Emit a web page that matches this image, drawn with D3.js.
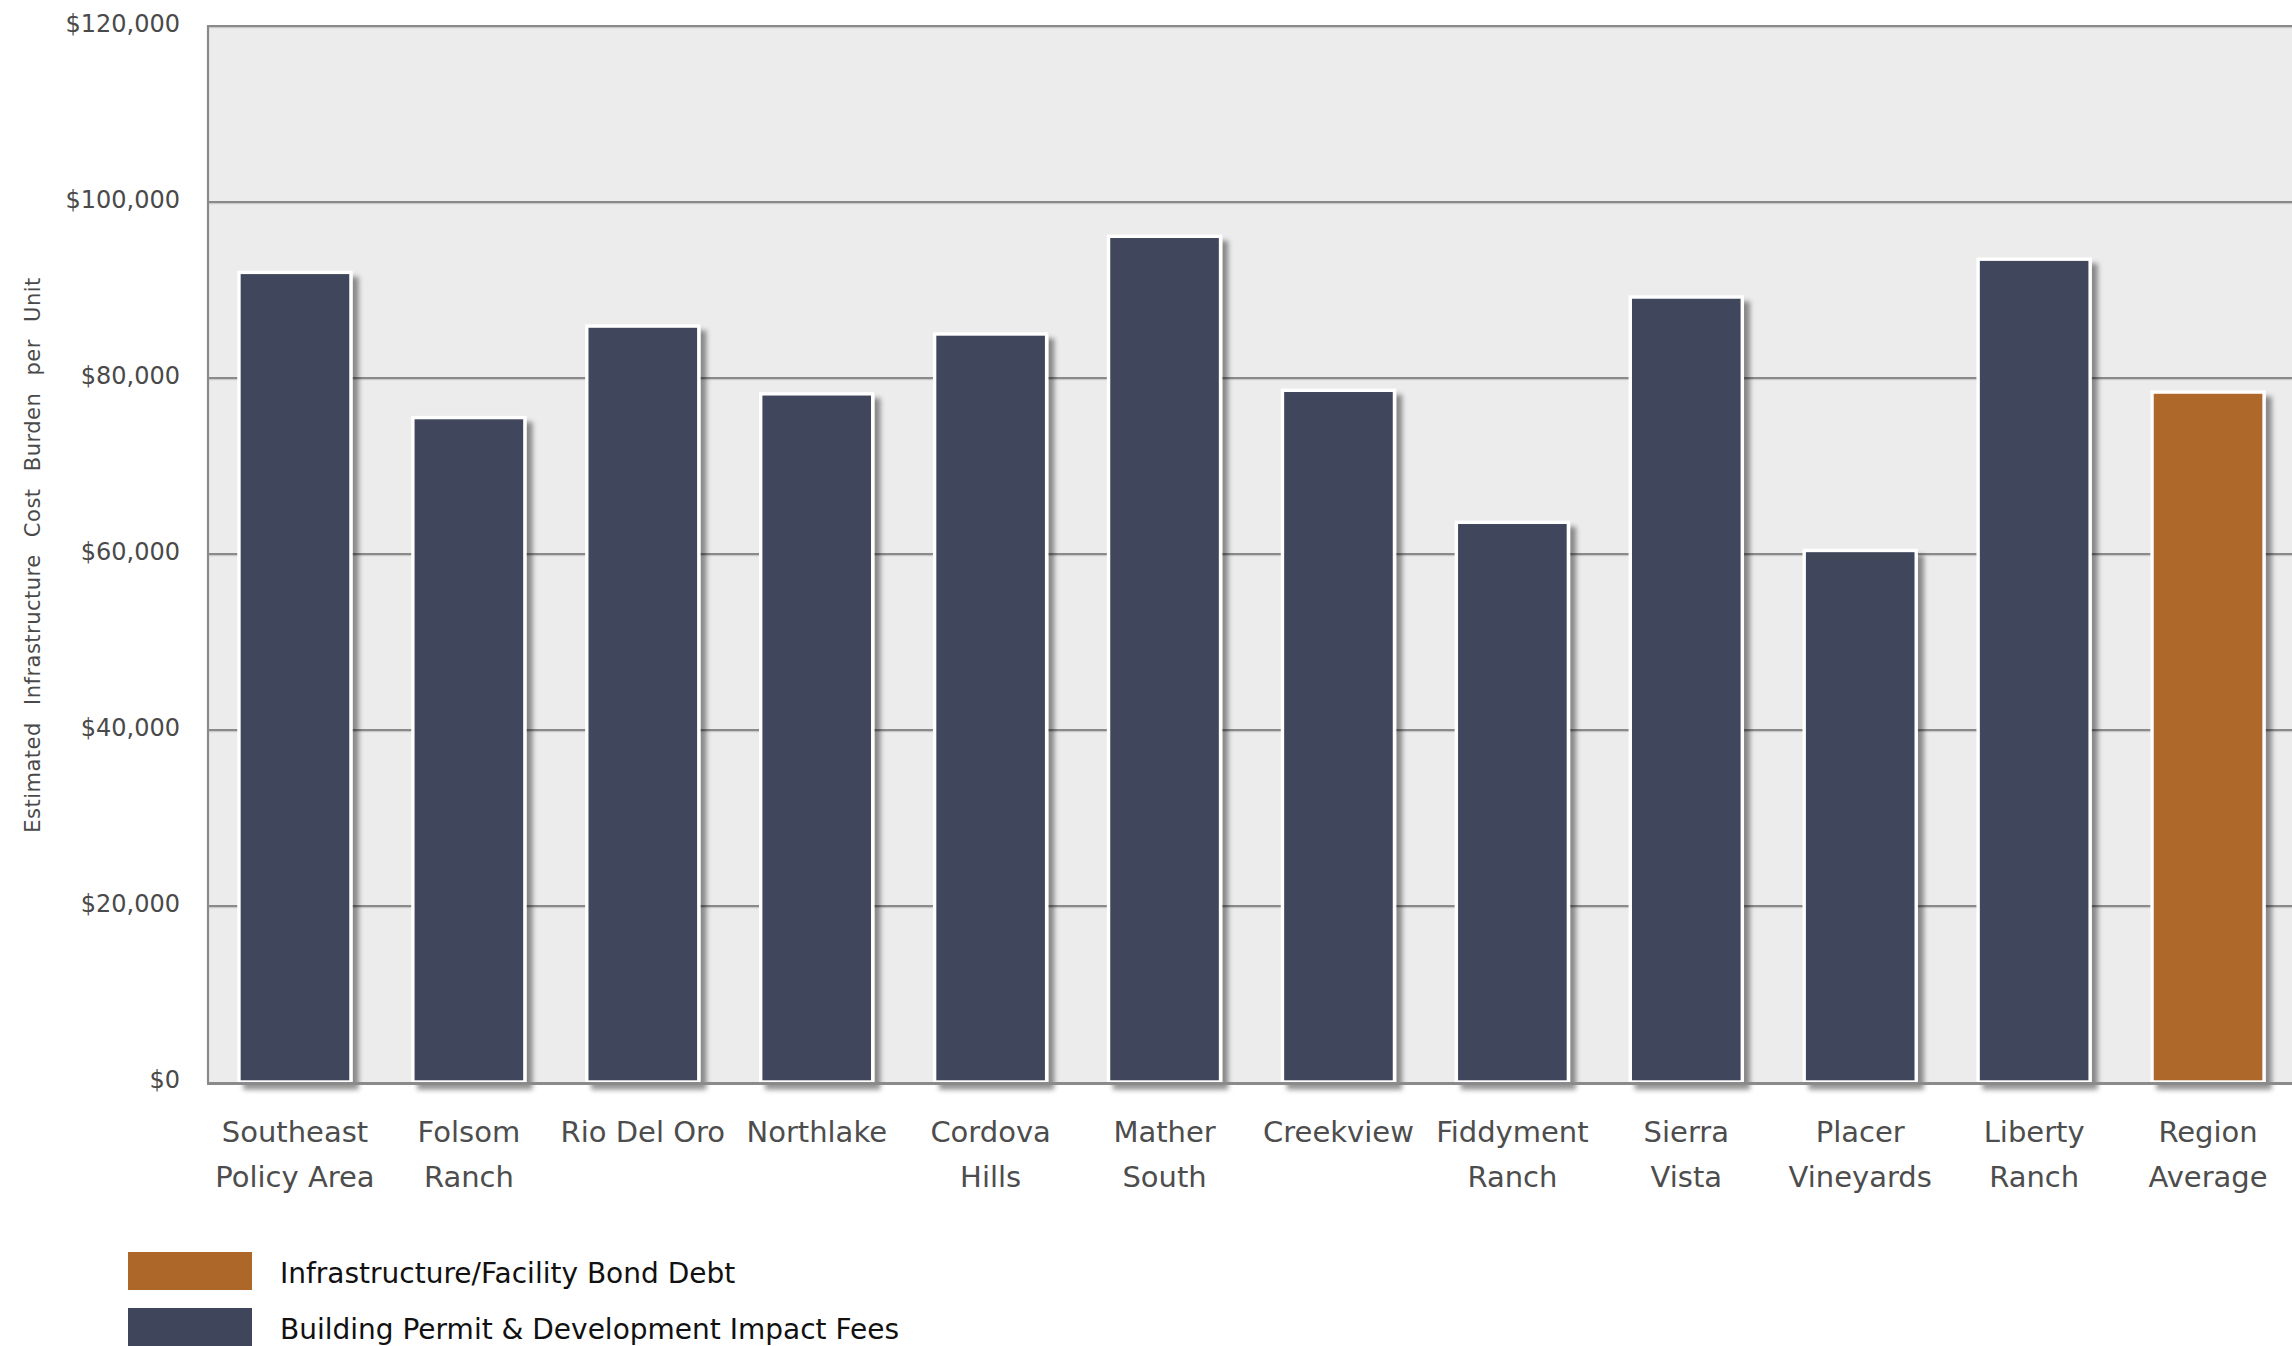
<!DOCTYPE html>
<html>
<head>
<meta charset="utf-8">
<script src="https://cdn.jsdelivr.net/npm/d3@7/dist/d3.min.js"></script>
<style>
  html, body { margin: 0; padding: 0; background: #ffffff; }
  svg { display: block; }
  text { font-family: "DejaVu Sans", "Liberation Sans", sans-serif; }
</style>
</head>
<body>
<svg id="chart" width="2292" height="1346"></svg>
<script>
// Communities compared, with their wrapped label lines
const categories = [
  "Southeast Policy Area", "Folsom Ranch", "Rio Del Oro", "Northlake",
  "Cordova Hills", "Mather South", "Creekview", "Fiddyment Ranch",
  "Sierra Vista", "Placer Vineyards", "Liberty Ranch", "Region Average"
];
const categoryLines = [
  ["Southeast", "Policy Area"], ["Folsom", "Ranch"], ["Rio Del Oro"], ["Northlake"],
  ["Cordova", "Hills"], ["Mather", "South"], ["Creekview"], ["Fiddyment", "Ranch"],
  ["Sierra", "Vista"], ["Placer", "Vineyards"], ["Liberty", "Ranch"], ["Region", "Average"]
];

// Cost burden per unit ($), by component
const feeValues  = [92000, 75500, 85900, 78200, 85000, 96100, 78600, 63600, 89200, 60400, 93500, 0];
const bondValues = [0, 0, 0, 0, 0, 0, 0, 0, 0, 0, 0, 78400];

const seriesNames = ["Building Permit & Development Impact Fees", "Infrastructure/Facility Bond Debt"];
const seriesKeys = ["fees", "bond"];
const seriesColors = ["#3f465c", "#ad6829"];
const legendOrder = [1, 0];

const yTicks = [0, 20000, 40000, 60000, 80000, 100000, 120000];
const yTitle = "Estimated Infrastructure Cost Burden per Unit";

const rows = categories.map((c, i) => ({ category: c, fees: feeValues[i], bond: bondValues[i] }));

const svg = d3.select("#chart");
const plot = { left: 208, top: 26, bottom: 1082, right: 2295 };

const x = d3.scaleBand()
  .domain(categories)
  .range([plot.left, plot.right])
  .paddingInner(0.356)
  .paddingOuter(0.178);

const y = d3.scaleLinear()
  .domain([0, 120000])
  .range([plot.bottom, plot.top]);

// Drop shadow used under each bar
const defs = svg.append("defs");
const shadow = defs.append("filter").attr("id", "barShadow")
  .attr("x", "-10%").attr("y", "-10%").attr("width", "130%").attr("height", "130%");
shadow.append("feDropShadow")
  .attr("dx", 6).attr("dy", 6).attr("stdDeviation", 2.6)
  .attr("flood-color", "#000").attr("flood-opacity", 0.42);

// Plot background
svg.append("rect")
  .attr("x", plot.left).attr("y", plot.top)
  .attr("width", 2292 - plot.left).attr("height", plot.bottom - plot.top)
  .attr("fill", "#ececec");

// Horizontal gridlines
const grid = svg.append("g");
yTicks.filter(t => t > 0).forEach(t => {
  grid.append("line")
    .attr("x1", plot.left).attr("x2", 2292)
    .attr("y1", y(t) + 1.5).attr("y2", y(t) + 1.5)
    .attr("stroke", "#c9c9c9").attr("stroke-width", 1.5);
  grid.append("line")
    .attr("x1", plot.left).attr("x2", 2292)
    .attr("y1", y(t)).attr("y2", y(t))
    .attr("stroke", "#8a8a8a").attr("stroke-width", 2.2);
});

// Left border of plot area
svg.append("line")
  .attr("x1", plot.left).attr("x2", plot.left)
  .attr("y1", plot.top - 1).attr("y2", plot.bottom)
  .attr("stroke", "#8a8a8a").attr("stroke-width", 2.2);

// Stacked bars
const stacked = d3.stack().keys(seriesKeys)(rows);
const barGroup = svg.append("g");
stacked.forEach((layer, si) => {
  barGroup.selectAll(null)
    .data(layer.filter(d => d[1] - d[0] > 0))
    .join("rect")
    .attr("x", d => x(d.data.category))
    .attr("y", d => y(d[1]))
    .attr("width", x.bandwidth())
    .attr("height", d => y(d[0]) - y(d[1]))
    .attr("fill", seriesColors[si])
    .attr("stroke", "#ffffff")
    .attr("stroke-width", 3.4)
    .attr("filter", "url(#barShadow)");
});

// Baseline
svg.append("line")
  .attr("x1", plot.left - 1).attr("x2", 2292)
  .attr("y1", plot.bottom + 1.5).attr("y2", plot.bottom + 1.5)
  .attr("stroke", "#8a8a8a").attr("stroke-width", 3);

// Y axis labels
const yAxis = d3.axisLeft(y)
  .tickValues(yTicks)
  .tickSize(0)
  .tickPadding(0)
  .tickFormat(d => "$" + d3.format(",")(d));
const yG = svg.append("g")
  .attr("transform", `translate(180,0)`)
  .call(yAxis);
yG.select(".domain").remove();
yG.selectAll("text")
  .attr("font-size", 24)
  .attr("fill", "#4a4a4a")
  .attr("dy", "0.22em")
  .attr("font-family", "DejaVu Sans, sans-serif");

// Y axis title
svg.append("text")
  .attr("transform", `translate(40,${(plot.top + plot.bottom) / 2 + 1}) rotate(-90)`)
  .attr("text-anchor", "middle")
  .attr("font-size", 21)
  .attr("letter-spacing", 0.5)
  .attr("word-spacing", 10)
  .attr("fill", "#4a4a4a")
  .text(yTitle);

// X axis labels (wrapped)
const xAxis = d3.axisBottom(x).tickSize(0).tickPadding(0).tickFormat("");
const xG = svg.append("g")
  .attr("transform", `translate(0,${plot.bottom})`)
  .call(xAxis);
xG.select(".domain").remove();
xG.selectAll(".tick").each(function (d) {
  const i = categories.indexOf(d);
  const t = d3.select(this).select("text")
    .attr("y", 0).attr("dy", null)
    .attr("font-size", 29)
    .attr("fill", "#4d4d4d")
    .attr("text-anchor", "middle")
    .attr("font-family", "DejaVu Sans, sans-serif");
  t.selectAll("tspan")
    .data(categoryLines[i])
    .join("tspan")
    .attr("x", 0)
    .attr("y", (l, k) => 60 + k * 45)
    .text(l => l);
});

// Legend
const legend = svg.append("g");
legendOrder.forEach((si, k) => {
  const ly = 1252 + k * 56;
  legend.append("rect")
    .attr("x", 128).attr("y", ly)
    .attr("width", 124).attr("height", 38)
    .attr("fill", seriesColors[si]);
  legend.append("text")
    .attr("x", 280).attr("y", ly + 31)
    .attr("font-size", 28)
    .attr("fill", "#111111")
    .text(seriesNames[si]);
});
</script>
</body>
</html>
